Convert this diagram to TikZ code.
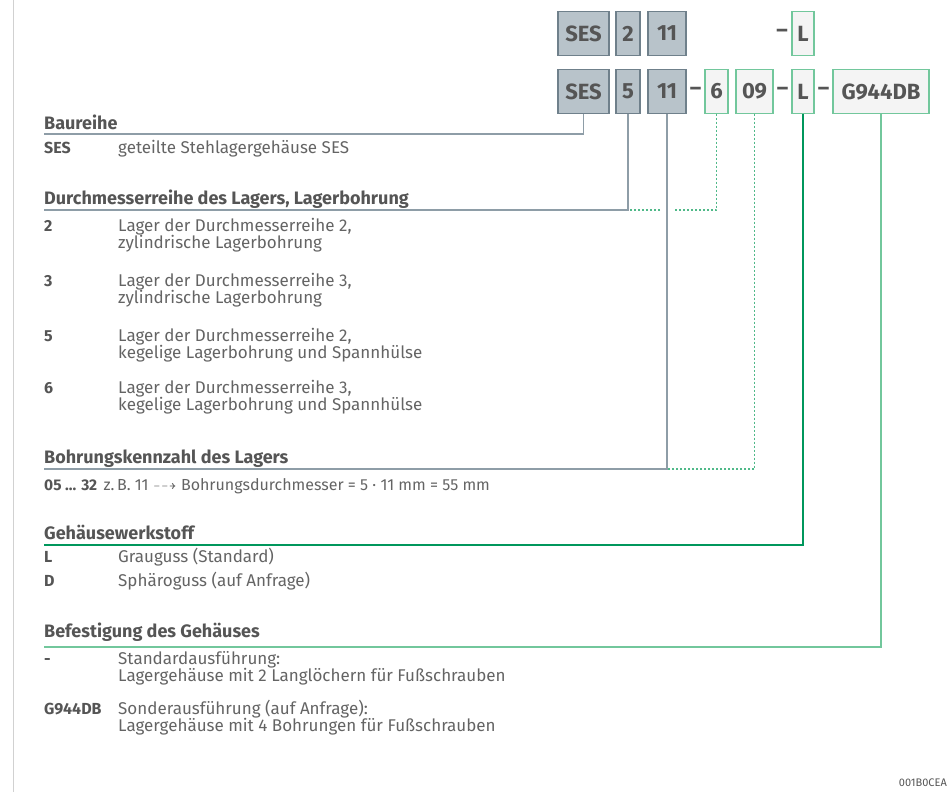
\documentclass[tikz,border=0pt]{standalone}
\usepackage{amssymb}
\usepackage{fontspec}
\setmainfont{Fira Sans}
\usetikzlibrary{positioning,calc}
\definecolor{codefill}{HTML}{B8C3CA}
\definecolor{codeedge}{HTML}{6F808B}
\definecolor{optfill}{HTML}{F4F4F4}
\definecolor{optedge}{HTML}{72C79C}
\definecolor{darkgreen}{HTML}{00975C}
\definecolor{linegray}{HTML}{8E9DA7}
\definecolor{txtgray}{HTML}{555555}
\definecolor{desctxt}{HTML}{646464}
\tikzset{
    codebox/.style={draw=codeedge, fill=codefill, line width=1.2pt,
        minimum height=44pt, inner sep=0pt, outer sep=0pt, text=txtgray,
        font=\fontsize{22}{24}\selectfont\bfseries},
    optbox/.style={draw=optedge, fill=optfill, line width=1.2pt,
        minimum height=44pt, inner sep=0pt, outer sep=0pt, text=txtgray,
        font=\fontsize{22}{24}\selectfont\bfseries},
    dashsign/.style={text=txtgray, inner sep=0pt,
        font=\fontsize{22}{24}\selectfont\bfseries},
    grayline/.style={draw=linegray, line width=1.2pt},
    greenline/.style={draw=darkgreen, line width=1.2pt},
    lightline/.style={draw=optedge, line width=1.2pt},
    dotline/.style={draw=optedge!70!darkgreen, line width=1.2pt,
        dash pattern=on 2.5pt off 1.5pt}
}

\begin{document}
\begin{tikzpicture}[
    x=1pt, y=-1pt,
    head/.style={anchor=base west, inner sep=0pt, text=txtgray,
        font=\fontsize{18}{18}\selectfont\bfseries},
    key/.style={anchor=base west, inner sep=0pt, text=txtgray,
        font=\fontsize{16}{17}\selectfont\bfseries},
    desc/.style={anchor=base west, inner sep=0pt, text=desctxt,
        align=left, font=\fontsize{17}{17}\selectfont},
]
\useasboundingbox (0,0) rectangle (949,792);
\draw[black!18, line width=1pt] (13.5,0) -- (13.5,792);

% ============ Code boxes ============

\node[codebox, minimum width=51pt, anchor=north west] (ses1) at (558,11.5) {SES};
\node[codebox, minimum width=24pt, right=7pt of ses1] (two) {2};
\node[codebox, minimum width=38pt, right=8pt of two] (elf1) {11};
\node[optbox, minimum width=22pt, anchor=north west] (lone) at (792,11.5) {L};
\node[dashsign, left=4pt of lone] (d0) {–};

\node[codebox, minimum width=51pt, anchor=north west] (ses2) at (558,69.5) {SES};
\node[codebox, minimum width=24pt, right=7pt of ses2] (five) {5};
\node[codebox, minimum width=38pt, right=8pt of five] (elf2) {11};
\node[optbox, minimum width=23pt, right=19pt of elf2] (six) {6};
\node[optbox, minimum width=37pt, right=8pt of six] (nine) {09};
\node[optbox, minimum width=22pt, right=19pt of nine] (ltwo) {L};
\node[optbox, minimum width=96pt, right=19pt of ltwo] (g944) {G944DB};
\node[dashsign] (d1) at ($(elf2.east)!0.5!(six.west)$) {–};
\node[dashsign] (d2) at ($(nine.east)!0.5!(ltwo.west)$) {–};
\node[dashsign] (d3) at ($(ltwo.east)!0.5!(g944.west)$) {–};

% ============ Legend ============

\node[head] (h1) at (44,129) {Baureihe};
\node[key] (k1) at (44,153) {SES};
\node[desc] (t1) at (118,153) {geteilte Stehlagergehäuse SES};

\node[head] (h2) at (44,204) {Durchmesserreihe des Lagers, Lagerbohrung};
\node[key] (k2) at (44,231) {2};
\node[desc] (t2) at (118,248) {Lager der Durchmesserreihe 2,\\zylindrische Lagerbohrung};
\node[key] (k3) at (44,286) {3};
\node[desc] (t3) at (118,303) {Lager der Durchmesserreihe 3,\\zylindrische Lagerbohrung};
\node[key] (k5) at (44,341) {5};
\node[desc] (t5) at (118,358) {Lager der Durchmesserreihe 2,\\kegelige Lagerbohrung und Spannhülse};
\node[key] (k6) at (44,393) {6};
\node[desc] (t6) at (118,410) {Lager der Durchmesserreihe 3,\\kegelige Lagerbohrung und Spannhülse};

\node[head] (h3) at (44,463) {Bohrungskennzahl des Lagers};
\node[key, font=\fontsize{15.5}{17}\selectfont\bfseries] (k7) at (44,490) {05 ... 32};
\node[desc, font=\fontsize{16}{17}\selectfont, right=6pt of k7.base east, anchor=base west] (t7)
    {z.\,B. 11 $\dashrightarrow$ Bohrungsdurchmesser = 5 · 11 mm = 55 mm};

\node[head] (h4) at (44,539) {Gehäusewerkstoff};
\node[key] (k8) at (44,562) {L};
\node[desc] (t8) at (118,562) {Grauguss (Standard)};
\node[key] (k9) at (44,586) {D};
\node[desc] (t9) at (118,586) {Sphäroguss (auf Anfrage)};

\node[head] (h5) at (44,637) {Befestigung des Gehäuses};
\node[key] (k10) at (44,664) {-};
\node[desc] (t10) at (118,681) {Standardausführung:\\Lagergehäuse mit 2 Langlöchern für Fußschrauben};
\node[key] (k11) at (44,714) {G944DB};
\node[desc] (t11) at (118,731) {Sonderausführung (auf Anfrage):\\Lagergehäuse mit 4 Bohrungen für Fußschrauben};

\node[anchor=base east, inner sep=0pt, text=txtgray, font=\fontsize{11}{12}\selectfont]
    (ref) at (947,786) {001B0CEA};

% ============ Connectors ============

\coordinate (e1) at (44,134);
\coordinate (e2) at (44,210);
\coordinate (e3) at (44,469);
\coordinate (e4) at (44,545);
\coordinate (e5) at (44,647);
\coordinate (gapL) at (660,210);
\coordinate (gapR) at (673,210);
\coordinate (join) at (elf2.south |- e3);

\draw[grayline] (ses2.south) |- (e1);
\draw[grayline] (five.south) |- (e2);
\draw[grayline] (elf2.south) |- (e3);
\draw[greenline] (ltwo.south) |- (e4);
\draw[lightline] (g944.south) |- (e5);
\draw[dotline] (six.south) |- (gapR);
\draw[dotline] (gapL) -- (five.south |- gapL);
\draw[dotline] (nine.south) |- (join);

\end{tikzpicture}
\end{document}
